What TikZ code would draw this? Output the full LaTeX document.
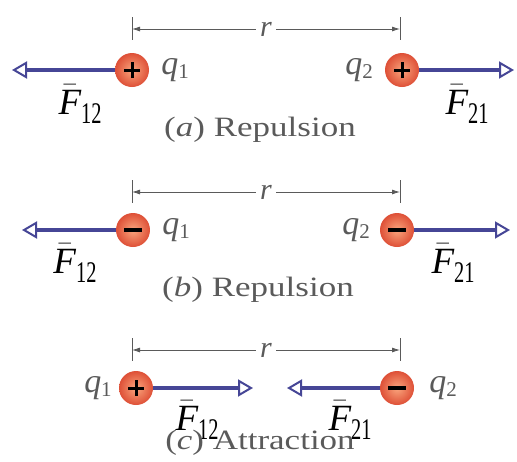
\RequirePackage{fix-cm}
\documentclass[tikz,border=0pt]{standalone}
\usepackage{amsmath}
\usepackage{fontspec}
\setmainfont{Liberation Serif}
\newfontfamily\capfont[FakeStretch=1.25]{Liberation Serif}
\usetikzlibrary{arrows.meta}

\definecolor{forceblue}{RGB}{70,70,150}
\definecolor{labelgray}{RGB}{90,90,90}
\definecolor{chargein}{RGB}{250,165,125}
\definecolor{chargeout}{RGB}{222,80,55}

% charge and force labels
\newcommand{\chargelab}[1]{\textit{q}\raisebox{-4pt}{\fontsize{21}{21}\selectfont #1}}
\newcommand{\forcelab}[1]{$\bar{\textit{F}}$\raisebox{-9pt}{\fontsize{30}{30}\selectfont\scalebox{0.68}[1]{#1}}}

\tikzset{
  charge/.style={circle,minimum size=34pt,inner sep=0pt,inner color=chargein,outer color=chargeout},
  plus/.style={charge,path picture={
    \draw[line width=3pt] ([xshift=-8pt]path picture bounding box.center) -- ([xshift=8pt]path picture bounding box.center);
    \draw[line width=3pt] ([yshift=-8pt]path picture bounding box.center) -- ([yshift=8pt]path picture bounding box.center);}},
  minus/.style={charge,path picture={
    \draw[line width=3.5pt] ([xshift=-9pt]path picture bounding box.center) -- ([xshift=9pt]path picture bounding box.center);}},
  force/.style={draw=forceblue,line width=4.5pt,-{Triangle[open,length=15pt,width=17pt,line width=2pt]}},
  dim/.style={draw=labelgray,line width=0.8pt,-{Latex[length=8pt,width=5pt]}},
  dimtick/.style={draw=labelgray,line width=0.8pt},
  qlab/.style={text=labelgray,inner sep=1pt,font=\fontsize{34}{36}\selectfont},
  rlab/.style={text=labelgray,inner sep=4pt,font=\itshape\fontsize{30}{32}\selectfont},
  flab/.style={inner sep=0pt,font=\fontsize{37}{38}\selectfont},
  capt/.style={text=labelgray,font=\capfont\fontsize{28}{30}\selectfont}
}

\begin{document}
\begin{tikzpicture}[x=1pt,y=-1pt]
  \useasboundingbox (0,0) rectangle (517,461);
  % distance r
  \foreach \n/\y in {a/29,b/192,c/350}{
    \node[rlab] (r\n) at (266,\y) {r};
    \coordinate (e\n1) at (132,\y);
    \coordinate (e\n2) at (400,\y);
    \draw[dim] (r\n) -- (e\n1);
    \draw[dim] (r\n) -- (e\n2);
    \draw[dimtick] ([yshift=12pt]e\n1) -- ([yshift=-11pt]e\n1);
    \draw[dimtick] ([yshift=12pt]e\n2) -- ([yshift=-11pt]e\n2);
  }
  % (a) repulsion
  \node[plus] (qa1) at (132,70) {};
  \node[plus] (qa2) at (402,70) {};
  \coordinate (fa1) at (12,70);
  \coordinate (fa2) at (514,70);
  \draw[force] (qa1.west) -- (fa1);
  \draw[force] (qa2.east) -- (fa2);
  \node[qlab] (la1) at (175,70) {\chargelab{1}};
  \node[qlab] (la2) at (359,70) {\chargelab{2}};
  \node[flab] (Fa1) at (80,104) {\forcelab{12}};
  \node[flab] (Fa2) at (467,104) {\forcelab{21}};
  \node[capt] (capa) at (260,130) {(\textit{a}) Repulsion};
  % (b) repulsion
  \node[minus] (qb1) at (133,230) {};
  \node[minus] (qb2) at (397,230) {};
  \coordinate (fb1) at (22,230);
  \coordinate (fb2) at (510,230);
  \draw[force] (qb1.west) -- (fb1);
  \draw[force] (qb2.east) -- (fb2);
  \node[qlab] (lb1) at (176,230) {\chargelab{1}};
  \node[qlab] (lb2) at (356,230) {\chargelab{2}};
  \node[flab] (Fb1) at (75,263) {\forcelab{12}};
  \node[flab] (Fb2) at (453,263) {\forcelab{21}};
  \node[capt] (capb) at (258,290) {(\textit{b}) Repulsion};
  % (c) attraction
  \node[plus] (qc1) at (136,388) {};
  \node[minus] (qc2) at (397,388) {};
  \coordinate (fc1) at (253,388);
  \coordinate (fc2) at (287,388);
  \draw[force] (qc1.east) -- (fc1);
  \draw[force] (qc2.west) -- (fc2);
  \node[qlab] (lc1) at (98,388) {\chargelab{1}};
  \node[qlab] (lc2) at (443,388) {\chargelab{2}};
  \node[flab] (Fc1) at (197,420) {\forcelab{12}};
  \node[flab] (Fc2) at (350,420) {\forcelab{21}};
  \node[capt] (capc) at (260,443) {(\textit{c}) Attraction};
\end{tikzpicture}
\end{document}
